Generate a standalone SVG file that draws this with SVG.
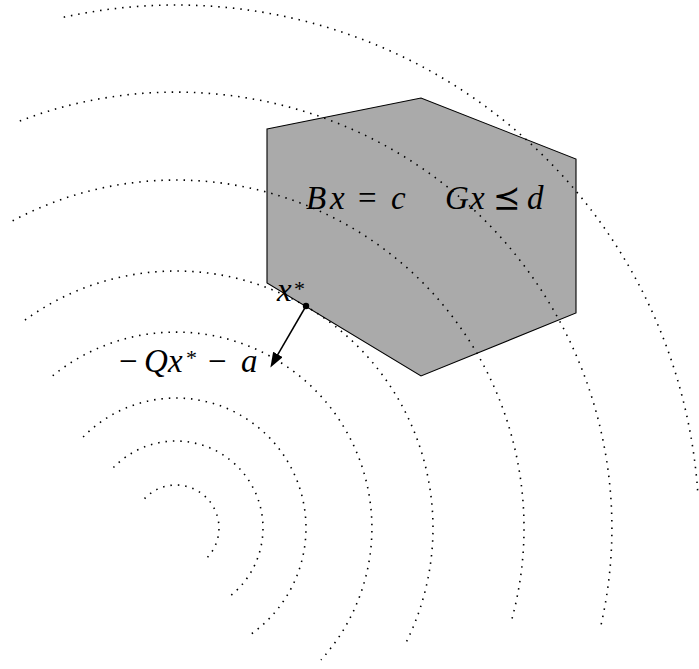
<svg xmlns="http://www.w3.org/2000/svg" width="699" height="669" viewBox="0 0 699 669">
  <style>
    .level { fill: none; stroke: #000; stroke-width: 1.6; stroke-dasharray: 1.5 5.9; }
    .math { font-family: "Liberation Serif", "DejaVu Serif", serif; font-size: 33px; fill: #000; }
    .it { font-style: italic; }
    .sup { font-size: 22px; }
    .op { font-family: "Liberation Serif", "DejaVu Serif", "DejaVu Sans", serif; font-style: normal; }
  </style>
  <defs>
    <marker id="head" markerUnits="userSpaceOnUse" markerWidth="16" markerHeight="12" refX="9" refY="5.5" orient="auto">
      <path d="M0,0 L15,5.5 L0,11 Z" fill="#000"/>
    </marker>
  </defs>
  <rect width="699" height="669" fill="#fff"/>

  <g id="feasible-set">
    <polygon points="267,129 421,98 576,159 576,313 421,376 267,283" fill="#aaaaaa" stroke="#000" stroke-width="1.1"/>
  </g>

  <g id="level-curves">
    <path class="level" d="M144.55,498.67 A43,43 0 1 1 203.35,561.18"/>
    <path class="level" d="M113.42,467.56 A87,87 0 1 1 227.38,598.21"/>
    <path class="level" d="M83.12,437.04 A130,130 0 1 1 250.57,634.49"/>
    <path class="level" d="M52.66,375.69 A196,196 0 0 1 320.96,659.91"/>
    <path class="level" d="M24.94,320.09 A257,257 0 0 1 403.96,646.66"/>
    <path class="level" d="M12.6,220.8 A348,348 0 0 1 511.7,619.8"/>
    <path class="level" d="M19.8,121 A436,436 0 0 1 599.9,629.7"/>
    <path class="level" d="M63.7,17.2 A523,523 0 0 1 697.7,491.5"/>
  </g>

  <g id="label-constraints">
    <text class="math" y="209"><tspan class="it" x="306">B</tspan><tspan class="it" x="330">x</tspan><tspan class="op" x="358">=</tspan><tspan class="it" x="391">c</tspan></text>
    <text class="math" y="209"><tspan class="it" x="445">G</tspan><tspan class="it" x="470">x</tspan><tspan class="op" x="493">⪯</tspan><tspan class="it" x="527">d</tspan></text>
  </g>

  <g id="optimum">
    <circle cx="306" cy="306" r="3.2" fill="#000"/>
    <text class="math" y="301"><tspan class="it" x="277">x</tspan><tspan class="sup" x="294" y="296">*</tspan></text>
  </g>

  <g id="connectors">
    <line x1="306" y1="306" x2="273.4" y2="362.2" stroke="#000" stroke-width="1.5" marker-end="url(#head)"/>
  </g>

  <g id="label-gradient">
    <text class="math" y="372"><tspan class="op" x="119">−</tspan><tspan class="it" x="144">Q</tspan><tspan class="it" x="168">x</tspan><tspan class="sup" x="186" y="365">*</tspan><tspan class="op" x="208" y="372">−</tspan><tspan class="it" x="241">a</tspan></text>
  </g>
</svg>
